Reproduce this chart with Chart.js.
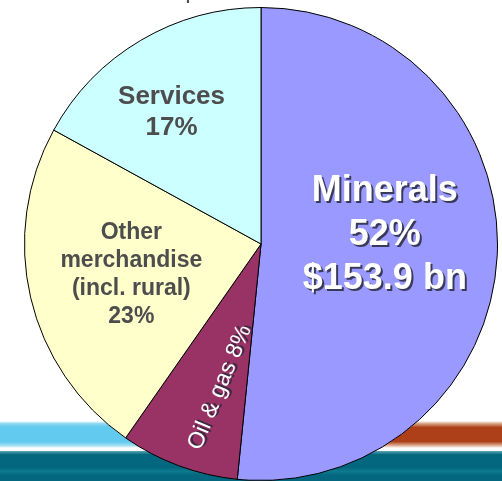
<!DOCTYPE html>
<html>
<head>
<meta charset="utf-8">
<script src="https://cdn.jsdelivr.net/npm/chart.js@4/dist/chart.umd.min.js"></script>
<style>
    html, body { margin: 0; padding: 0; background: #fff; overflow: hidden; }
    #wrap { position: relative; width: 502px; height: 481px; overflow: hidden; }
    .band { position: absolute; }
    #blue { left: 0; width: 300px; top: 421px; height: 27px;
        background: linear-gradient(#ffffff 0%, #8fd8f0 10%, #62caee 22%, #62caee 78%, #a8e2f4 92%, #ffffff 100%); }
    #orange { left: 300px; width: 202px; top: 421px; height: 27px;
        background: linear-gradient(#ffffff 0%, #d8a080 10%, #ad4019 24%, #ad4019 76%, #e0b8a0 92%, #ffffff 100%); }
    #teal { left: 0; width: 502px; top: 451px; height: 30px;
        background: linear-gradient(#5fa6b6 0%, #03687f 12%, #03687f 55%, #0d7a8e 68%, #03687f 80%, #03687f 100%); }
    #grafica { position: absolute; left: 0; top: 0; }
</style>
</head>
<body>
<div id="wrap">
    <div class="band" id="blue"></div>
    <div class="band" id="orange"></div>
    <div class="band" id="teal"></div>
    <canvas id="grafica"></canvas>
</div>
<script>
const tituloTexto = "$298.0 bn";
const categorias = ["Minerals", "Oil & gas", "Other merchandise (incl. rural)", "Services"];
const porcentajes = [51.6, 8.1, 23.3, 17.0];
const colores = ["#9999ff", "#993366", "#ffffcc", "#ccffff"];
const etiquetas = [
    ["Minerals", "52%", "$153.9 bn"],
    ["Oil & gas 8%"],
    ["Other", "merchandise", "(incl. rural)", "23%"],
    ["Services", "17%"]
];

document.addEventListener("DOMContentLoaded", function () {
    const canvas = document.getElementById("grafica");
    canvas.width = 502;
    canvas.height = 481;

    // estilo de cada etiqueta: tamaño, color, sombra, distancia al centro
    const estilos = [
        { size: 36, weight: "bold", color: "#ffffff", shadow: true, frac: 0.52, dx: 1, dy: -15, lh: 44 },
        { size: 23, weight: "normal", color: "#ffffff", shadow: true, frac: 0.62, dx: 10, dy: 6, lh: 24, rotar: true },
        { size: 23, weight: "bold", color: "#4d4d4d", shadow: false, frac: 0.563, dx: 0, dy: 0, lh: 28 },
        { size: 26, weight: "bold", color: "#4d4d4d", shadow: false, frac: 0.66, dx: -10, dy: 3, lh: 31 }
    ];

    const pluginEtiquetas = {
        id: "etiquetas",
        afterDatasetsDraw(chart) {
            const ctx = chart.ctx;
            const arcos = chart.getDatasetMeta(0).data;
            arcos.forEach(function (arco, i) {
                const p = arco.getProps(["x", "y", "startAngle", "endAngle", "outerRadius"], true);
                const medio = (p.startAngle + p.endAngle) / 2;
                const e = estilos[i];
                const r = p.outerRadius * e.frac;
                const cx = p.x + Math.cos(medio) * r + e.dx;
                const cy = p.y + Math.sin(medio) * r + e.dy;
                const lineas = etiquetas[i];
                ctx.save();
                ctx.translate(cx, cy);
                if (e.rotar) ctx.rotate(medio - Math.PI + 0.04);
                ctx.font = e.weight + " " + e.size + "px 'Liberation Sans', Arial, sans-serif";
                ctx.textAlign = "center";
                ctx.textBaseline = "middle";
                const y0 = -(lineas.length - 1) * e.lh / 2;
                lineas.forEach(function (txt, k) {
                    if (e.shadow) {
                        ctx.fillStyle = "rgba(40, 40, 60, 0.85)";
                        ctx.fillText(txt, 2, y0 + k * e.lh + 2);
                    }
                    ctx.fillStyle = e.color;
                    ctx.fillText(txt, 0, y0 + k * e.lh);
                });
                ctx.restore();
            });

            // titulo cortado arriba
            ctx.save();
            ctx.font = "bold 40px 'Liberation Sans', Arial, sans-serif";
            ctx.fillStyle = "#4d4d4d";
            ctx.textAlign = "center";
            ctx.textBaseline = "alphabetic";
            ctx.fillText(tituloTexto, 268, 0);
            ctx.restore();
        }
    };

    new Chart(canvas, {
        type: "pie",
        data: {
            labels: categorias,
            datasets: [
                {
                    data: porcentajes,
                    backgroundColor: colores,
                    borderColor: "#000000",
                    borderWidth: 1
                }
            ]
        },
        options: {
            responsive: false,
            animation: false,
            layout: {
                padding: { left: 24, right: 4, top: 7, bottom: 0 }
            },
            plugins: {
                legend: { display: false },
                tooltip: { enabled: false }
            }
        },
        plugins: [pluginEtiquetas]
    });
});
</script>
</body>
</html>
